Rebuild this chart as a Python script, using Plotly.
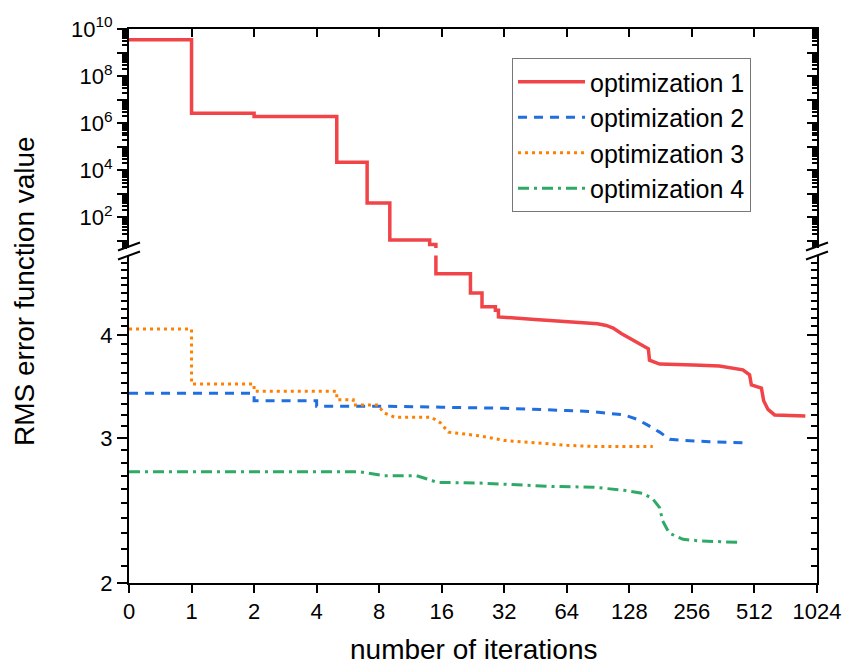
import numpy as np
import plotly.graph_objects as go

# ---------------- data (iterations, RMS error value) ----------------
opt1_iter = [0, 1, 1, 2, 2, 5, 5, 7, 7, 9, 9, 14, 14, 15, 15, 22, 22, 25, 25, 29, 29, 30, 30,
             45, 64, 90, 99, 107, 117, 128, 143, 158, 160, 179, 261, 347, 450, 485, 495,
             553, 567, 595, 640, 900]
opt1_val = [3.5e9, 3.5e9, 2.6e6, 2.6e6, 1.9e6, 1.9e6, 2.2e4, 2.2e4, 400, 400, 10.8, 10.8,
            7.0, 7.0, 4.75, 4.75, 4.50, 4.50, 4.33, 4.33, 4.29, 4.29, 4.21,
            4.18, 4.15, 4.13, 4.11, 4.08, 4.02, 3.97, 3.91, 3.85, 3.73, 3.69, 3.68, 3.67,
            3.63, 3.58, 3.48, 3.45, 3.33, 3.25, 3.20, 3.19]

opt2_iter = [0, 2, 2, 4, 4, 8, 16, 32, 64, 85, 121, 140, 157, 179, 200, 232, 311, 450]
opt2_val = [3.40, 3.40, 3.33, 3.33, 3.28, 3.28, 3.27, 3.26, 3.24, 3.23, 3.20, 3.16, 3.11,
            3.05, 2.99, 2.98, 2.97, 2.96]

opt3_iter = [0, 1, 1, 2, 2, 5, 5, 6, 6, 7.9, 8.4, 9.5, 14.2, 15.8, 17.2, 24, 32, 45, 64, 86, 166]
opt3_val = [4.07, 4.07, 3.49, 3.49, 3.42, 3.42, 3.34, 3.34, 3.29, 3.29, 3.22, 3.18, 3.18,
            3.13, 3.05, 3.02, 2.98, 2.96, 2.94, 2.93, 2.93]

opt4_iter = [0, 6.4, 8.4, 12.1, 14, 15.2, 24, 32, 55, 86, 123, 149, 166, 179, 185, 199, 232, 279, 445]
opt4_val = [2.73, 2.73, 2.70, 2.70, 2.67, 2.65, 2.645, 2.635, 2.62, 2.615, 2.59, 2.57, 2.53,
            2.47, 2.38, 2.30, 2.26, 2.25, 2.24]

x_tick_labels = ["0", "1", "2", "4", "8", "16", "32", "64", "128", "256", "512", "1024"]
lower_ticks = [2, 3, 4]
upper_exponents = list(range(1, 11))
axis_break_value = 5  # lower panel: 2..5, upper panel: 5..1e10

names = ["optimization 1", "optimization 2", "optimization 3", "optimization 4"]
colors = ["#F04449", "#1F6FDF", "#FF8000", "#2FAA66"]


def pos(n):
    """iterations -> position on the 0,1,2,4,...,1024 axis"""
    n = np.asarray(n, dtype=float)
    return np.where(n > 0, np.log2(np.maximum(n, 1e-9)) + 1, 0.0)


FONT = "Liberation Sans, Arial, sans-serif"
fig = go.Figure()

# optimization 1 spans both panels: upper part up to the first value under the break
k_break = next(i for i, v in enumerate(opt1_val) if v < axis_break_value)
fig.add_trace(go.Scatter(x=pos(opt1_iter[:k_break + 1]), y=opt1_val[:k_break + 1],
                         mode="lines", name=names[0],
                         line=dict(color=colors[0], width=3.5), xaxis="x", yaxis="y2"))
fig.add_trace(go.Scatter(x=pos(opt1_iter[k_break - 1:]), y=opt1_val[k_break - 1:],
                         mode="lines", name=names[0],
                         line=dict(color=colors[0], width=3.5), xaxis="x", yaxis="y",
                         showlegend=False))
fig.add_trace(go.Scatter(x=pos(opt2_iter), y=opt2_val, mode="lines", name=names[1],
                         line=dict(color=colors[1], width=3, dash="9px,7px"),
                         xaxis="x", yaxis="y"))
fig.add_trace(go.Scatter(x=pos(opt3_iter), y=opt3_val, mode="lines", name=names[2],
                         line=dict(color=colors[2], width=3, dash="3px,4px"),
                         xaxis="x", yaxis="y"))
fig.add_trace(go.Scatter(x=pos(opt4_iter), y=opt4_val, mode="lines", name=names[3],
                         line=dict(color=colors[3], width=3, dash="11px,5px,3px,5px"),
                         xaxis="x", yaxis="y"))

# empty traces so that the decorative mirror axes are drawn
for xa, ya in (("x2", "y2"), ("x", "y3"), ("x", "y4"), ("x", "y5")):
    fig.add_trace(go.Scatter(x=[None], y=[None], xaxis=xa, yaxis=ya, mode="lines",
                             showlegend=False, hoverinfo="skip"))

# plot geometry (pixels)
W, H = 844, 666
L, R, T, B = 129, 27, 29, 83
ph = H - T - B
pw = W - L - R
bot_top_px = 255.4
top_bot_px = 247.9
dom_lower = [0, (H - B - bot_top_px) / ph]
dom_upper = [(H - B - top_bot_px) / ph, 1]

lower_range = [np.log10(2), np.log10(axis_break_value)]
upper_range = [np.log10(axis_break_value), 10]

lower_minor = [round(v, 1) for v in np.arange(2.1, 5.0, 0.1) if round(v, 1) not in (3.0, 4.0)]
upper_minor = [k * 10.0 ** e for e in range(0, 10) for k in range(2, 10)]
upper_all = [10.0 ** e for e in upper_exponents]
upper_lab_exp = [e for e in upper_exponents if e % 2 == 0]
upper_lab_vals = [10.0 ** e for e in upper_lab_exp]
upper_lab_text = ["10<sup>%d</sup>" % e for e in upper_lab_exp]

axis_common = dict(showgrid=False, zeroline=False, showline=True, linecolor="black",
                   linewidth=2, tickcolor="black", tickwidth=2,
                   tickfont=dict(family=FONT, size=22, color="black"))

fig.update_layout(
    width=W, height=H,
    margin=dict(l=L, r=R, t=T, b=B, autoexpand=False),
    paper_bgcolor="white", plot_bgcolor="white",
    font=dict(family=FONT, color="black"),
    xaxis=dict(domain=[0, 1], range=[0, 11], tickmode="array", tickvals=list(range(12)),
               ticktext=x_tick_labels, ticks="outside", ticklen=8, anchor="y",
               **axis_common),
    xaxis2=dict(range=[0, 11], overlaying="x", anchor="y2", side="top", tickmode="array",
                tickvals=list(range(12)), ticks="inside", ticklen=8, showticklabels=False,
                **axis_common),
    yaxis=dict(domain=dom_lower, type="log", range=lower_range, tickmode="array",
               tickvals=lower_ticks, ticktext=[str(v) for v in lower_ticks],
               ticks="outside", ticklen=10, anchor="x",
               minor=dict(tickmode="array", tickvals=lower_minor, ticks="outside",
                          ticklen=6, tickwidth=1.5, tickcolor="black"),
               **axis_common),
    yaxis2=dict(domain=dom_upper, type="log", range=upper_range, tickmode="array",
                tickvals=upper_lab_vals, ticktext=upper_lab_text, ticks="outside",
                ticklen=10, anchor="x",
                minor=dict(tickmode="array", tickvals=upper_minor, ticks="outside",
                           ticklen=5, tickwidth=1.5, tickcolor="black"),
                **axis_common),
    yaxis3=dict(type="log", range=lower_range, overlaying="y", side="right", anchor="x",
                tickmode="array", tickvals=lower_ticks, ticks="inside", ticklen=10,
                showticklabels=False,
                minor=dict(tickmode="array", tickvals=lower_minor, ticks="inside",
                           ticklen=6, tickwidth=1.5, tickcolor="black"),
                **axis_common),
    yaxis4=dict(type="log", range=upper_range, overlaying="y2", side="right", anchor="x",
                tickmode="array", tickvals=upper_all, ticks="inside", ticklen=10,
                showticklabels=False,
                minor=dict(tickmode="array", tickvals=upper_minor, ticks="inside",
                           ticklen=5, tickwidth=1.5, tickcolor="black"),
                **axis_common),
    yaxis5=dict(type="log", range=upper_range, overlaying="y2", side="left", anchor="x",
                tickmode="array", tickvals=upper_all, ticks="outside", ticklen=10,
                showticklabels=False, **axis_common),
    legend=dict(x=(512 - L) / pw, y=(H - B - 58) / ph, xanchor="left", yanchor="top",
                bgcolor="white", bordercolor="#777777", borderwidth=1,
                font=dict(family=FONT, size=25, color="black"),
                tracegroupgap=0, itemwidth=67),
    showlegend=True,
)

# axis titles
fig.add_annotation(text="RMS error function value", xref="paper", yref="paper",
                   x=(25 - L) / pw, y=(H - B - 291) / ph, textangle=-90, showarrow=False,
                   font=dict(family=FONT, size=28, color="black"),
                   xanchor="center", yanchor="middle")
fig.add_annotation(text="number of iterations", xref="paper", yref="paper",
                   x=0.5, y=(H - B - 649) / ph, showarrow=False,
                   font=dict(family=FONT, size=28, color="black"),
                   xanchor="center", yanchor="middle")


# axis-break marks
def px2paper(xp, yp):
    return (xp - L) / pw, (H - B - yp) / ph


for xc in (L, W - R):
    for yc in (246.5, 255.5):
        x0, y0 = px2paper(xc - 11, yc + 4)
        x1, y1 = px2paper(xc + 11, yc - 4)
        fig.add_shape(type="line", xref="paper", yref="paper", x0=x0, y0=y0, x1=x1, y1=y1,
                      line=dict(color="black", width=2))

fig.write_html("out.html", config={"displayModeBar": False},
               post_script="document.body.style.margin='0';")
